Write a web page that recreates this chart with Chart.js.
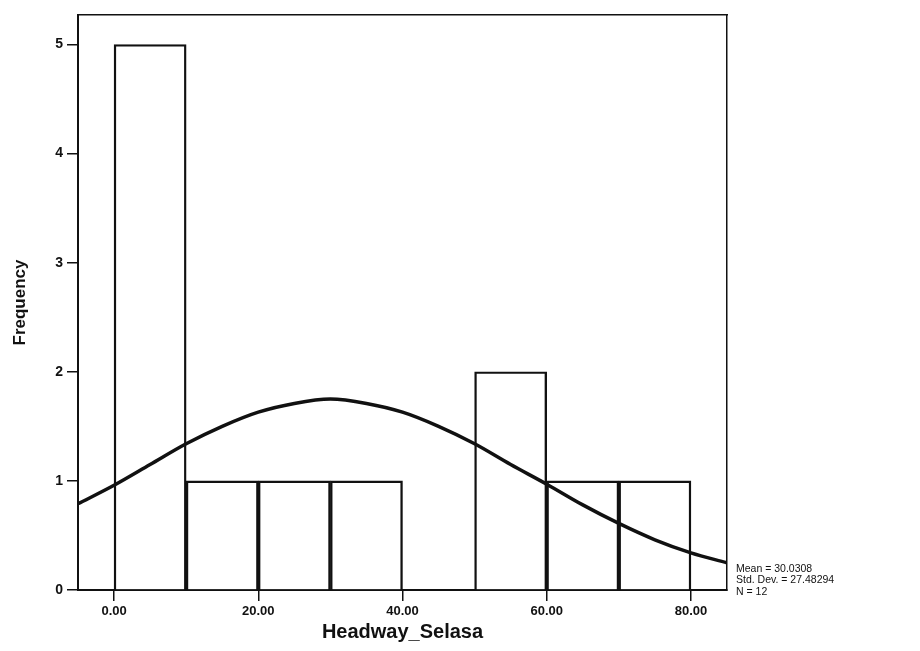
<!DOCTYPE html>
<html>
<head>
<meta charset="utf-8">
<title>Headway_Selasa</title>
<script src="https://cdn.jsdelivr.net/npm/chart.js@4/dist/chart.umd.min.js"></script>
<style>
  html, body { margin: 0; padding: 0; background: #ffffff; }
  #wrap { width: 920px; height: 651px; }
</style>
</head>
<body>
<div id="wrap"><canvas id="hist" width="920" height="651"></canvas></div>
<script>
// Histogram bins (width 10) and their counts
const binCenters = [5, 15, 25, 35, 45, 55, 65, 75];
const frequencies = [5, 1, 1, 1, 0, 2, 1, 1];

// Fitted normal curve, sampled every 5 units
const curveX = [-5, 0, 5, 10, 15, 20, 25, 30, 35, 40, 45, 50, 55, 60, 65, 70, 75, 80, 85];
const curveY = [0.79, 0.96, 1.15, 1.34, 1.50, 1.63, 1.71, 1.75, 1.71, 1.63, 1.50, 1.34, 1.15, 0.97, 0.78, 0.61, 0.46, 0.34, 0.25];

// Axis ticks
const xTickValues = [0, 20, 40, 60, 80];
const yTickValues = [0, 1, 2, 3, 4, 5];

// Summary statistics shown beside the plot
const statLines = ['Mean = 30.0308', 'Std. Dev. = 27.48294', 'N = 12'];

const FONT = '"Liberation Sans", Arial, Helvetica, sans-serif';
const INK = '#111111';

const statsText = {
  id: 'statsText',
  afterDraw(chart) {
    const { ctx, chartArea } = chart;
    ctx.save();
    ctx.fillStyle = INK;
    ctx.font = '10.5px ' + FONT;
    ctx.textAlign = 'left';
    ctx.textBaseline = 'middle';
    const x = chartArea.right + 9;
    const y0 = chartArea.bottom - 21;
    statLines.forEach((t, i) => ctx.fillText(t, x, y0 + i * 11.5));
    ctx.restore();
  }
};

new Chart(document.getElementById('hist'), {
  type: 'bar',
  data: {
    datasets: [
      {
        type: 'line',
        data: curveX.map((x, i) => ({ x: x, y: curveY[i] })),
        borderColor: INK,
        borderWidth: 3.5,
        pointRadius: 0,
        cubicInterpolationMode: 'monotone',
        fill: false,
        order: 0
      },
      {
        type: 'bar',
        data: binCenters.map((x, i) => ({ x: x, y: frequencies[i] })),
        backgroundColor: '#ffffff',
        borderColor: INK,
        borderWidth: 2.4,
        barPercentage: 1,
        categoryPercentage: 1,
        order: 1
      }
    ]
  },
  options: {
    responsive: false,
    devicePixelRatio: 1,
    animation: false,
    layout: { padding: { top: 15, right: 193, left: 0, bottom: 0 } },
    plugins: { legend: { display: false }, tooltip: { enabled: false } },
    scales: {
      x: {
        type: 'linear',
        min: -5,
        max: 85,
        offset: false,
        afterBuildTicks(scale) { scale.ticks = xTickValues.map(v => ({ value: v })); },
        afterFit(scale) { scale.height = 61; },
        grid: { display: true, offset: false, drawOnChartArea: false, drawTicks: true, tickLength: 11, color: INK, lineWidth: 1.5 },
        border: { display: true, color: INK, width: 2 },
        ticks: {
          color: INK,
          padding: 3,
          maxRotation: 0,
          autoSkip: false,
          font: { family: FONT, size: 13, weight: 'bold' },
          callback: v => Number(v).toFixed(2)
        },
        title: {
          display: true,
          text: 'Headway_Selasa',
          color: INK,
          font: { family: FONT, size: 20, weight: 'bold' },
          padding: { top: 0, bottom: 7 }
        }
      },
      y: {
        min: 0,
        max: 5.27,
        afterBuildTicks(scale) { scale.ticks = yTickValues.map(v => ({ value: v })); },
        afterFit(scale) { scale.width = 78; },
        grid: { display: true, drawOnChartArea: false, drawTicks: true, tickLength: 11, color: INK, lineWidth: 1.5 },
        border: { display: true, color: INK, width: 2 },
        ticks: {
          color: INK,
          padding: 4,
          font: { family: FONT, size: 14, weight: 'bold' },
          callback: v => String(v)
        },
        title: {
          display: true,
          text: 'Frequency',
          color: INK,
          font: { family: FONT, size: 17, weight: 'bold' },
          padding: { top: 10, bottom: 0 }
        }
      },
      xTop: {
        type: 'linear',
        position: 'top',
        min: -5,
        max: 85,
        afterFit(scale) { scale.height = 0; },
        grid: { display: false },
        ticks: { display: false },
        border: { display: true, color: INK, width: 1.5 }
      },
      yRight: {
        position: 'right',
        min: 0,
        max: 5.27,
        afterFit(scale) { scale.width = 0; },
        grid: { display: false },
        ticks: { display: false },
        border: { display: true, color: INK, width: 1.5 }
      }
    }
  },
  plugins: [statsText]
});
</script>
</body>
</html>
